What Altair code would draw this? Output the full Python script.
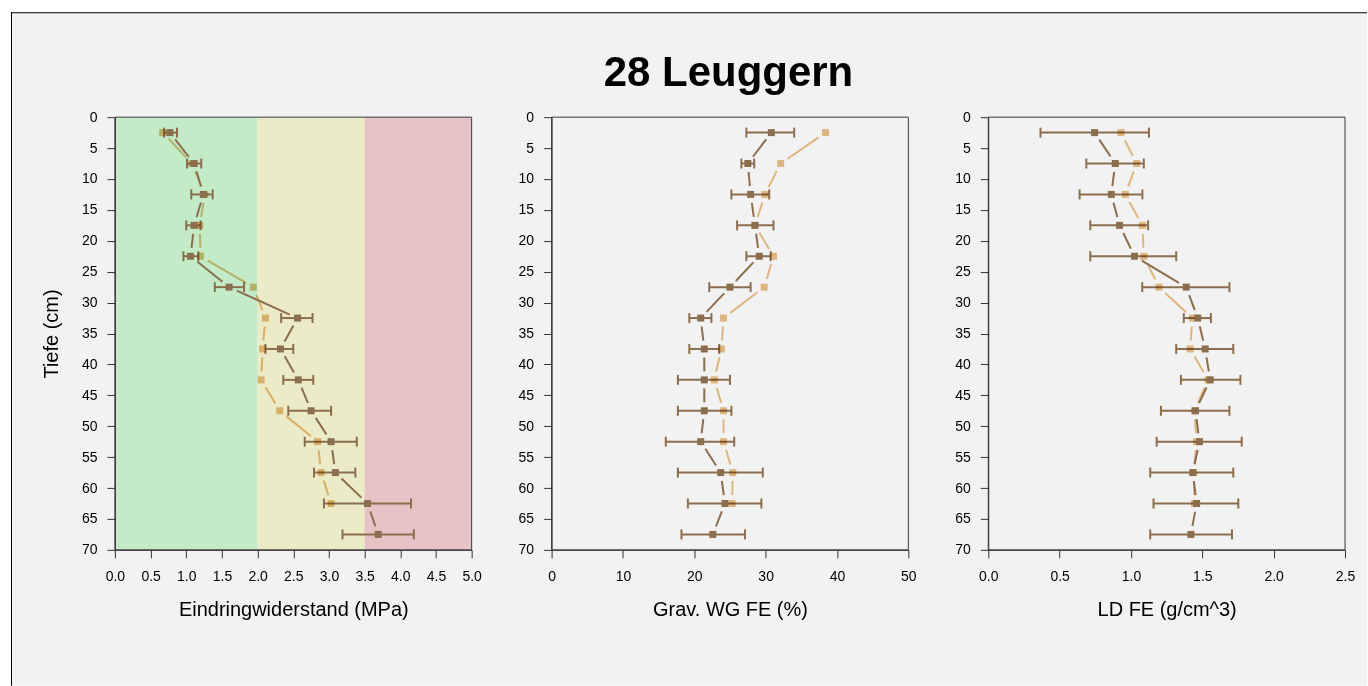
import math
import altair as alt
import pandas as pd

# Sampling depths (cm), centre of each 5 cm layer
depth = [2.5, 7.5, 12.5, 17.5, 22.5, 27.5, 32.5, 37.5, 42.5, 47.5, 52.5, 57.5, 62.5, 67.5]

# Penetration resistance (MPa): current series with spread, plus reference series
mpa_mean = [0.77, 1.11, 1.24, 1.11, 1.06, 1.60, 2.56, 2.32, 2.57, 2.75, 3.03, 3.09, 3.54, 3.69]
mpa_lo = [0.69, 1.01, 1.07, 1.00, 0.96, 1.40, 2.33, 2.11, 2.36, 2.43, 2.66, 2.79, 2.93, 3.19]
mpa_hi = [0.87, 1.21, 1.37, 1.20, 1.17, 1.81, 2.77, 2.50, 2.78, 3.03, 3.39, 3.37, 4.15, 4.19]
mpa_ref = [0.67, 1.08, 1.26, 1.19, 1.20, 1.94, 2.11, 2.07, 2.05, 2.31, 2.84, 2.89, 3.03]

# Gravimetric water content (%)
wg_mean = [30.8, 27.5, 27.9, 28.5, 29.1, 25.0, 20.9, 21.4, 21.4, 21.4, 20.9, 23.7, 24.3, 22.6]
wg_lo = [27.3, 26.6, 25.2, 26.0, 27.3, 22.1, 19.3, 19.3, 17.7, 17.7, 16.0, 17.7, 19.1, 18.2]
wg_hi = [34.0, 28.4, 30.5, 31.1, 30.7, 27.9, 22.4, 23.5, 25.0, 25.2, 25.6, 29.6, 29.4, 27.1]
wg_ref = [38.4, 32.1, 29.9, 28.5, 31.1, 29.8, 24.1, 23.8, 22.8, 24.1, 24.1, 25.4, 25.3]

# Bulk density (g/cm^3)
ld_mean = [0.745, 0.89, 0.862, 0.92, 1.025, 1.387, 1.468, 1.52, 1.555, 1.452, 1.48, 1.433, 1.46, 1.42]
ld_lo = [0.366, 0.687, 0.64, 0.715, 0.715, 1.079, 1.37, 1.317, 1.35, 1.21, 1.18, 1.135, 1.158, 1.135]
ld_hi = [1.126, 1.09, 1.08, 1.12, 1.317, 1.69, 1.56, 1.717, 1.767, 1.69, 1.776, 1.717, 1.752, 1.708]
ld_ref = [0.93, 1.04, 0.96, 1.08, 1.09, 1.196, 1.43, 1.415, 1.54, 1.445, 1.46, 1.44, 1.445]

# Resistance classes shaded behind the first panel
band_from = [0.0, 2.0, 3.5]
band_to = [2.0, 3.5, 5.0]
band_color = ["#C3EBC7", "#EBEBC7", "#E7C3C7"]

W, H = 357, 433
YMAX = 70
DARK = "#8B6E4E"
LIGHT = "#EABF85"
GAP = 8.5        # px left open around each point (line + point style)
CAP = 5          # half height of error-bar caps, px
FONT = "Liberation Sans"


def gapped_segments(xs, ds, xmax):
    """Connect consecutive points, leaving a small gap around each point."""
    sx, sy = W / xmax, H / YMAX
    rows = []
    for i in range(len(xs) - 1):
        x0, d0, x1, d1 = xs[i], ds[i], xs[i + 1], ds[i + 1]
        length = math.hypot((x1 - x0) * sx, (d1 - d0) * sy)
        if length <= 2 * GAP:
            continue
        f = GAP / length
        rows.append({"x": x0 + f * (x1 - x0), "d": d0 + f * (d1 - d0),
                     "x2": x1 - f * (x1 - x0), "d2": d1 - f * (d1 - d0)})
    return pd.DataFrame(rows)


def panel(mean, lo, hi, ref, xmax, ticks, fmt, xtitle, ytitle, bands=False, frame=False):
    xscale = alt.Scale(domain=[0, xmax], nice=False, zero=False)
    yscale = alt.Scale(domain=[0, YMAX], reverse=True, nice=False)
    xaxis = alt.Axis(values=ticks, format=fmt, title=xtitle, zindex=1,
                     labelFlush=False, labelOverlap=False)
    yaxis = alt.Axis(values=list(range(0, 75, 5)), title=ytitle, zindex=1,
                     labelFlush=False, labelOverlap=False)

    def X(f):
        return alt.X(f, type="quantitative", scale=xscale, axis=xaxis)

    def Y(f):
        return alt.Y(f, type="quantitative", scale=yscale, axis=yaxis)

    layers = []
    if frame:
        one = alt.Data(values=[{"k": 1}])
        layers.append(alt.Chart(one).mark_rect(fill="#F2F2F2").encode(
            x=alt.value(-104), x2=alt.value(1253), y=alt.value(-105), y2=alt.value(569)))
        layers.append(alt.Chart(one).mark_rule(color="#000000", strokeWidth=1).encode(
            x=alt.value(-104), x2=alt.value(1253), y=alt.value(-104.5)))
        layers.append(alt.Chart(one).mark_rule(color="#000000", strokeWidth=1).encode(
            x=alt.value(-103.5), y=alt.value(-105), y2=alt.value(569)))
    if bands:
        bdf = pd.DataFrame({"x": band_from, "x2": band_to, "c": band_color,
                            "d": [0] * 3, "d2": [YMAX] * 3})
        layers.append(alt.Chart(bdf).mark_rect().encode(
            x=X("x"), x2="x2", y=Y("d"), y2="d2",
            color=alt.Color("c:N", scale=None)))

    # plot outline
    odf = pd.DataFrame({"x": [0], "x2": [xmax], "d": [0], "d2": [YMAX]})
    layers.append(alt.Chart(odf).mark_rect(fill="transparent", stroke="#3a3a3a", strokeWidth=1).encode(
        x=X("x"), x2="x2", y=Y("d"), y2="d2"))

    # error bars with caps
    edf = pd.DataFrame({"lo": lo, "hi": hi, "d": depth})
    layers.append(alt.Chart(edf).mark_rule(color=DARK, strokeWidth=2).encode(
        x=X("lo"), x2="hi", y=Y("d")))
    c = CAP * YMAX / H
    cdf = pd.DataFrame({"x": lo + hi,
                        "d": [v - c for v in depth] * 2,
                        "d2": [v + c for v in depth] * 2})
    layers.append(alt.Chart(cdf).mark_rule(color=DARK, strokeWidth=2).encode(
        x=X("x"), y=Y("d"), y2="d2"))

    # reference series
    rd = depth[:len(ref)]
    layers.append(alt.Chart(gapped_segments(ref, rd, xmax)).mark_rule(
        color=LIGHT, strokeWidth=2, blend="multiply").encode(
        x=X("x"), x2="x2", y=Y("d"), y2="d2"))
    layers.append(alt.Chart(pd.DataFrame({"x": ref, "d": rd})).mark_square(
        color=LIGHT, size=49, opacity=1, blend="multiply").encode(x=X("x"), y=Y("d")))

    # current series
    layers.append(alt.Chart(gapped_segments(mean, depth, xmax)).mark_rule(
        color=DARK, strokeWidth=2).encode(x=X("x"), x2="x2", y=Y("d"), y2="d2"))
    layers.append(alt.Chart(pd.DataFrame({"x": mean, "d": depth})).mark_square(
        color=DARK, size=49, opacity=1).encode(x=X("x"), y=Y("d")))

    return alt.layer(*layers).properties(width=W, height=H)


p1 = panel(mpa_mean, mpa_lo, mpa_hi, mpa_ref, 5.0, [i * 0.5 for i in range(11)], ".1f",
           "Eindringwiderstand (MPa)", "Tiefe (cm)", bands=True, frame=True)
p2 = panel(wg_mean, wg_lo, wg_hi, wg_ref, 50, [0, 10, 20, 30, 40, 50], "d",
           "Grav. WG FE (%)", None)
p3 = panel(ld_mean, ld_lo, ld_hi, ld_ref, 2.5, [0, 0.5, 1.0, 1.5, 2.0, 2.5], ".1f",
           "LD FE (g/cm^3)", None)

chart = alt.hconcat(p1, p2, p3, spacing=80, bounds="flush").properties(
    title=alt.TitleParams("28 Leuggern", font=FONT, fontSize=42, fontWeight="bold",
                          color="#000000", anchor="middle", frame="group", align="center",
                          baseline="alphabetic", dx=614, offset=-116.5, zindex=1),
    background="#FFFFFF",
    padding={"left": 10, "top": 11, "right": 0, "bottom": 0},
).configure_view(stroke="transparent").configure_axis(
    labelFont=FONT, labelFontSize=14, labelColor="#000000",
    titleFont=FONT, titleFontSize=20, titleFontWeight="normal", titleColor="#000000",
    domainColor="#333333", tickColor="#333333", tickSize=8, domainWidth=1, tickWidth=1,
    grid=False,
).configure_axisX(labelPadding=12, titlePadding=16).configure_axisY(
    labelPadding=10, titlePadding=20)

chart.save("out.html", embed_options={"renderer": "svg", "actions": False})
